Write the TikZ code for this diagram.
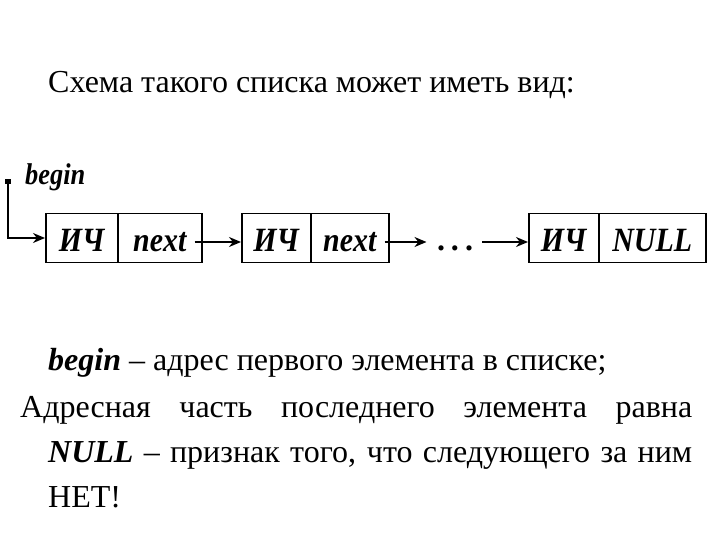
\documentclass[tikz,border=0pt]{standalone}
\usepackage{fontspec}
\setmainfont{Liberation Serif}
\newfontfamily\cellfont[FakeStretch=0.88]{Liberation Serif}
\usetikzlibrary{arrows.meta}
\tikzset{
  cell/.style={draw, line width=1.5pt, minimum height=49pt, inner sep=0pt, anchor=west,
    text height=27pt, text depth=0pt,
    font=\fontsize{34}{34}\cellfont\bfseries\itshape},
  link/.style={line width=1.6pt, -{Stealth[length=12pt,width=10pt]}},
  txt/.style={anchor=base west, inner sep=0pt, font=\fontsize{32}{32}\selectfont}
}
\begin{document}
\begin{tikzpicture}[x=1pt,y=-1pt]
\useasboundingbox (0,0) rectangle (720,540);
\node[txt] (title) at (48,93) {Схема такого списка может иметь вид:};
% cells
\node[cell, minimum width=72pt] (i1) at (45,238) {ИЧ};
\node[cell, minimum width=84pt] (n1) at (117,238) {next};
\node[cell, minimum width=69pt] (i2) at (241,238) {ИЧ};
\node[cell, minimum width=78pt] (n2) at (310,238) {next};
\node[cell, minimum width=70pt] (i3) at (528,238) {ИЧ};
\node[cell, minimum width=107pt] (n3) at (598,238) {NULL};
\node[anchor=base, inner sep=0pt, font=\fontsize{32}{32}\selectfont\bfseries] (dots) at (455,251) {.\hspace{6pt}.\hspace{6pt}.};
% begin pointer
\node[anchor=base west, inner sep=0pt, font=\fontsize{30}{30}\cellfont\bfseries\itshape] (beg) at (25,185) {begin};
\coordinate (b0) at (8,182);
\coordinate (b1) at (8,238);
\fill (b0) +(-3,-3) rectangle +(3,2);
\draw[link] (b0) -- (b1) -- (i1.west);
\draw[link] ([xshift=-8pt,yshift=-4pt]n1.east) -- ([yshift=-4pt]i2.west);
\draw[link] ([xshift=-5pt,yshift=-4pt]n2.east) -- ([xshift=37pt,yshift=-4pt]n2.east);
\draw[link] ([xshift=-46pt,yshift=-4pt]i3.west) -- ([yshift=-4pt]i3.west);
% bottom text
\node[txt] (l1) at (48,370) {\textbf{\textit{begin}} – адрес первого элемента в списке;};
\node[txt] (l2) at (20,417) {\makebox[672pt][s]{Адресная часть последнего элемента равна}};
\node[txt] (l3) at (48,462) {\makebox[644pt][s]{\textbf{\textit{NULL}} – признак того, что следующего за ним}};
\node[txt] (l4) at (48,507) {НЕТ!};
\end{tikzpicture}
\end{document}
